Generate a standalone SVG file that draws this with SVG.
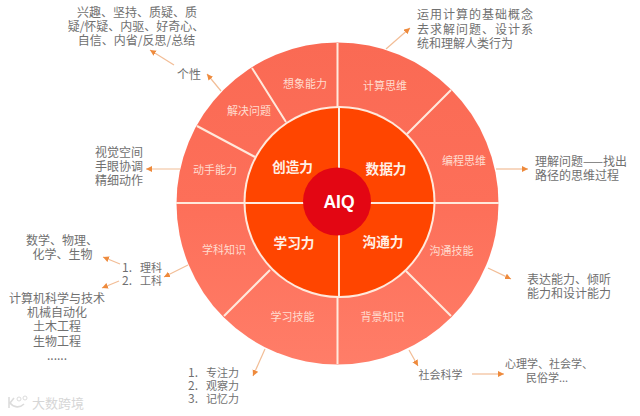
<svg xmlns="http://www.w3.org/2000/svg" width="640" height="416" viewBox="0 0 640 416">
<style>
.i{fill:#ff4500}
.d{stroke:#ffe9dc;stroke-width:2;fill:none}
.t{font-family:"Noto Sans CJK SC","Liberation Sans",sans-serif;font-size:12px;fill:#707070;text-anchor:middle}
.l{text-anchor:start}
.n{font-size:11px}
.sp{letter-spacing:1px}
.s{font-family:"Noto Sans CJK SC","Liberation Sans",sans-serif;font-size:11px;fill:#ffdccf;text-anchor:middle}
.b{font-family:"Noto Sans CJK SC","Liberation Sans",sans-serif;font-size:13.7px;font-weight:700;fill:#fff0e6;text-anchor:middle}
.c line{stroke:#f2bd96;stroke-width:1.2;marker-end:url(#a)}
</style>
<defs>
<linearGradient id="g" x1="0" y1="0" x2="0" y2="1"><stop offset="0" stop-color="#fa6a54"/><stop offset="0.5" stop-color="#fd6f59"/><stop offset="1" stop-color="#ff7d68"/></linearGradient>
<marker id="a" markerWidth="7" markerHeight="7" refX="6" refY="3" orient="auto" markerUnits="userSpaceOnUse"><path d="M0 0L6 3L0 6Z" fill="#ee8a3c"/></marker>
</defs>
<rect width="640" height="416" fill="#fff"/>
<g id="wheel">
<circle cx="337.5" cy="203.5" r="161" fill="url(#g)"/>
<circle cx="339.5" cy="202" r="96" fill="#ffe9dc"/>
<circle cx="339.5" cy="202" r="94" class="i"/>
<path class="d" d="M337.5 43V107M337.5 297V364M339 108V296M176 203H499M252 68L286 122M197 126L255 157M451 90L407 134M451 316L406 271M224 316L270 270"/>
</g>
<g id="center"><circle cx="337" cy="201.5" r="34" fill="#e30613"/><text x="339" y="207.5" text-anchor="middle" font-family="Liberation Sans,sans-serif" font-weight="700" font-size="17.5" fill="#fff">AIQ</text></g>
<g id="inner"><text class="b" x="292.5" y="172">创造力</text><text class="b" x="386" y="174">数据力</text><text class="b" x="294" y="248">学习力</text><text class="b" x="383" y="247">沟通力</text></g>
<g id="segments">
<text class="s" x="305" y="87.5">想象能力</text><text class="s" x="249" y="115">解决问题</text><text class="s" x="215" y="174">动手能力</text>
<text class="s" x="385" y="90">计算思维</text><text class="s" x="464" y="165">编程思维</text><text class="s" x="451.5" y="254.5">沟通技能</text>
<text class="s" x="224" y="254">学科知识</text><text class="s" x="292.5" y="320.5">学习技能</text><text class="s" x="382.5" y="320.5">背景知识</text>
</g>
<g id="notes">
<text class="t"><tspan x="137" y="16.5">兴趣、坚持、质疑、质</tspan><tspan x="136" y="30.5">疑/怀疑、内驱、好奇心、</tspan><tspan x="136.5" y="44.5">自信、内省/反思/总结</tspan></text>
<text class="t" x="189" y="78.5">个性</text>
<text class="t"><tspan x="119" y="156.5">视觉空间</tspan><tspan x="119" y="170.5">手眼协调</tspan><tspan x="119" y="184.5">精细动作</tspan></text>
<text class="t l"><tspan class="sp" x="417" y="19">运用计算的基础概念</tspan><tspan class="sp" x="417" y="33.5">去求解问题、设计系</tspan><tspan x="417" y="47.5">统和理解人类行为</tspan></text>
<text class="t l"><tspan x="535" y="165.5">理解问题——找出</tspan><tspan x="535" y="179.5">路径的思维过程</tspan></text>
<text class="t"><tspan x="62" y="244.5">数学、物理、</tspan><tspan x="62.5" y="259">化学、生物</tspan></text>
<text class="t l"><tspan x="122" y="271.5">1.</tspan><tspan x="140" y="271.5" class="n">理科</tspan><tspan x="122" y="284.5">2.</tspan><tspan x="140" y="284.5" class="n">工科</tspan></text>
<text class="t"><tspan x="57" y="302.5">计算机科学与技术</tspan><tspan x="57" y="317">机械自动化</tspan><tspan x="57" y="331">土木工程</tspan><tspan x="57" y="345.5">生物工程</tspan><tspan x="57" y="360">......</tspan></text>
<text class="t l"><tspan x="188" y="376.5">1.</tspan><tspan x="206" y="376.5" class="n">专注力</tspan><tspan x="188" y="390">2.</tspan><tspan x="206" y="390" class="n">观察力</tspan><tspan x="188" y="403">3.</tspan><tspan x="206" y="403" class="n">记忆力</tspan></text>
<text class="t l"><tspan x="527" y="283.5">表达能力、倾听</tspan><tspan x="527" y="298">能力和设计能力</tspan></text>
<text class="t n" x="440.5" y="378.5">社会科学</text>
<text class="t n"><tspan x="549" y="367.5">心理学、社会学、</tspan><tspan x="547" y="382">民俗学...</tspan></text>
</g>
<g id="watermark">
<path d="M9 397V408M10 403C14 408 20 408 24 404M14 398L10 403" fill="none" stroke="#dcdcdc" stroke-width="1.6"/>
<circle cx="19" cy="399" r="2" fill="none" stroke="#dcdcdc"/><circle cx="25" cy="398" r="2" fill="none" stroke="#dcdcdc"/>
<text x="58" y="407.5" font-family="Noto Sans CJK SC,sans-serif" font-size="13" fill="#d6d6d6" text-anchor="middle">大数跨境</text>
</g>
<g id="connectors" class="c">
<line x1="174" y1="65" x2="150" y2="50"/><line x1="221" y1="91" x2="207" y2="74"/><line x1="180" y1="169" x2="146" y2="169"/>
<line x1="386" y1="49" x2="410" y2="28"/><line x1="496" y1="169" x2="528" y2="169"/>
<line x1="120" y1="264" x2="103" y2="257"/><line x1="188" y1="265" x2="164" y2="277"/><line x1="119" y1="281" x2="102" y2="288"/>
<line x1="265" y1="349" x2="253" y2="376"/><line x1="488" y1="268" x2="511" y2="279"/><line x1="409" y1="350" x2="418" y2="366"/><line x1="472" y1="374" x2="504" y2="374"/>
</g>
</svg>
